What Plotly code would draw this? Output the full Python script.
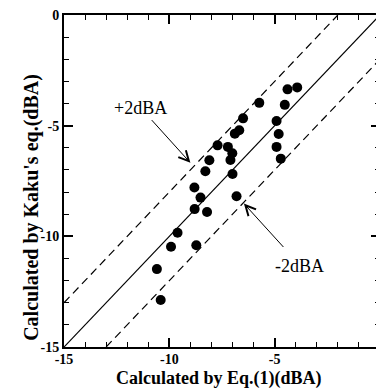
import plotly.graph_objects as go

# Data
eq1_dba = [-4.39, -3.93, -4.52, -5.73, -4.91, -6.50, -6.68, -6.89, -4.81, -7.71,
           -7.22, -7.01, -7.10, -4.91, -4.71, -8.10, -8.29, -7.00, -8.81, -8.52,
           -6.81, -8.80, -8.21, -9.61, -9.92, -8.72, -10.59, -10.41]
kaku_dba = [-3.36, -3.27, -4.06, -3.97, -4.79, -4.67, -5.21, -5.36, -5.38, -5.89,
            -5.96, -6.25, -6.55, -5.96, -6.49, -6.56, -7.06, -7.18, -7.79, -8.25,
            -8.19, -8.77, -8.90, -9.84, -10.47, -10.40, -11.48, -12.88]

axis_range = [-15, 0]
line_offsets = [0, 2, -2]          # y = x + offset
line_dashes = ["solid", "8px,5px", "8px,5px"]
tick_vals = [-15, -10, -5, 0]
tick_text = ["-15", "-10", "-5", "0"]

x_title = "Calculated by Eq.(1)(dBA)"
y_title = "Calculated by Kaku's eq.(dBA)"

ann_labels = ["+2dBA", "-2dBA"]
ann_text_pos = [(-11.38, -4.22), (-3.81, -11.34)]
ann_head = [(-9.0, -6.68), (-6.46, -8.52)]
ann_tail = [(-10.9, -4.68), (-4.52, -10.55)]

FONT = "Liberation Serif, Times New Roman, serif"

# page body has an 8px margin: figure is sized to fill the rest of the window
OFF = 8
W, H = 384 - OFF, 392 - OFF
ML, MR, MT, MB = 64 - OFF, 0, 14 - OFF, 45
PW, PH = W - ML - MR, H - MT - MB


def px_to_paper_x(px):
    return (px - OFF - ML) / PW


def px_to_paper_y(py):
    return (H - MB - (py - OFF)) / PH


fig = go.Figure()

lo, hi = axis_range
for off, dash in zip(line_offsets, line_dashes):
    x0 = max(lo, lo - off)
    x1 = min(hi, hi - off)
    fig.add_trace(go.Scatter(
        x=[x0, x1], y=[x0 + off, x1 + off], mode="lines",
        line=dict(color="black", width=1.2, dash=dash),
        showlegend=False, hoverinfo="skip"))

fig.add_trace(go.Scatter(
    x=eq1_dba, y=kaku_dba, mode="markers",
    marker=dict(color="black", size=10, line=dict(width=0)),
    showlegend=False))

for lab, (tx, ty), (hx, hy), (ax_, ay_) in zip(ann_labels, ann_text_pos, ann_head, ann_tail):
    fig.add_annotation(x=tx, y=ty, text=lab, showarrow=False,
                       font=dict(family=FONT, size=18, color="black"))
    fig.add_annotation(x=hx, y=hy, ax=ax_, ay=ay_, axref="x", ayref="y",
                       text="", showarrow=True, arrowhead=5, arrowsize=2,
                       arrowwidth=1, arrowcolor="black")

# axis titles placed as annotations for exact positioning
fig.add_annotation(xref="paper", yref="paper", x=px_to_paper_x(221), y=px_to_paper_y(379),
                   text=x_title, showarrow=False, xanchor="center", yanchor="middle",
                   font=dict(family=FONT, size=18, color="black", weight="bold"))
fig.add_annotation(xref="paper", yref="paper", x=px_to_paper_x(31), y=px_to_paper_y(207),
                   text=y_title, showarrow=False, textangle=-90,
                   xanchor="center", yanchor="middle",
                   font=dict(family=FONT, size=20, color="black", weight="bold"))

axis_common = dict(
    range=axis_range, tickvals=tick_vals, ticktext=tick_text,
    showgrid=False, zeroline=False,
    showline=True, linecolor="black", linewidth=2, mirror="ticks",
    ticks="inside", ticklen=9, tickwidth=2, tickcolor="black",
    minor=dict(dtick=1, ticks="inside", ticklen=5, tickwidth=1.2,
               tickcolor="black", showgrid=False),
    tickfont=dict(family=FONT, size=14, color="black", weight="bold"),
    ticklabeloverflow="allow",
)

fig.update_xaxes(**axis_common, ticklabelstandoff=-2)
fig.update_yaxes(**axis_common)

fig.update_layout(
    width=W, height=H,
    margin=dict(l=ML, r=MR, t=MT, b=MB),
    plot_bgcolor="white", paper_bgcolor="white",
)

fig.write_html("out.html")
